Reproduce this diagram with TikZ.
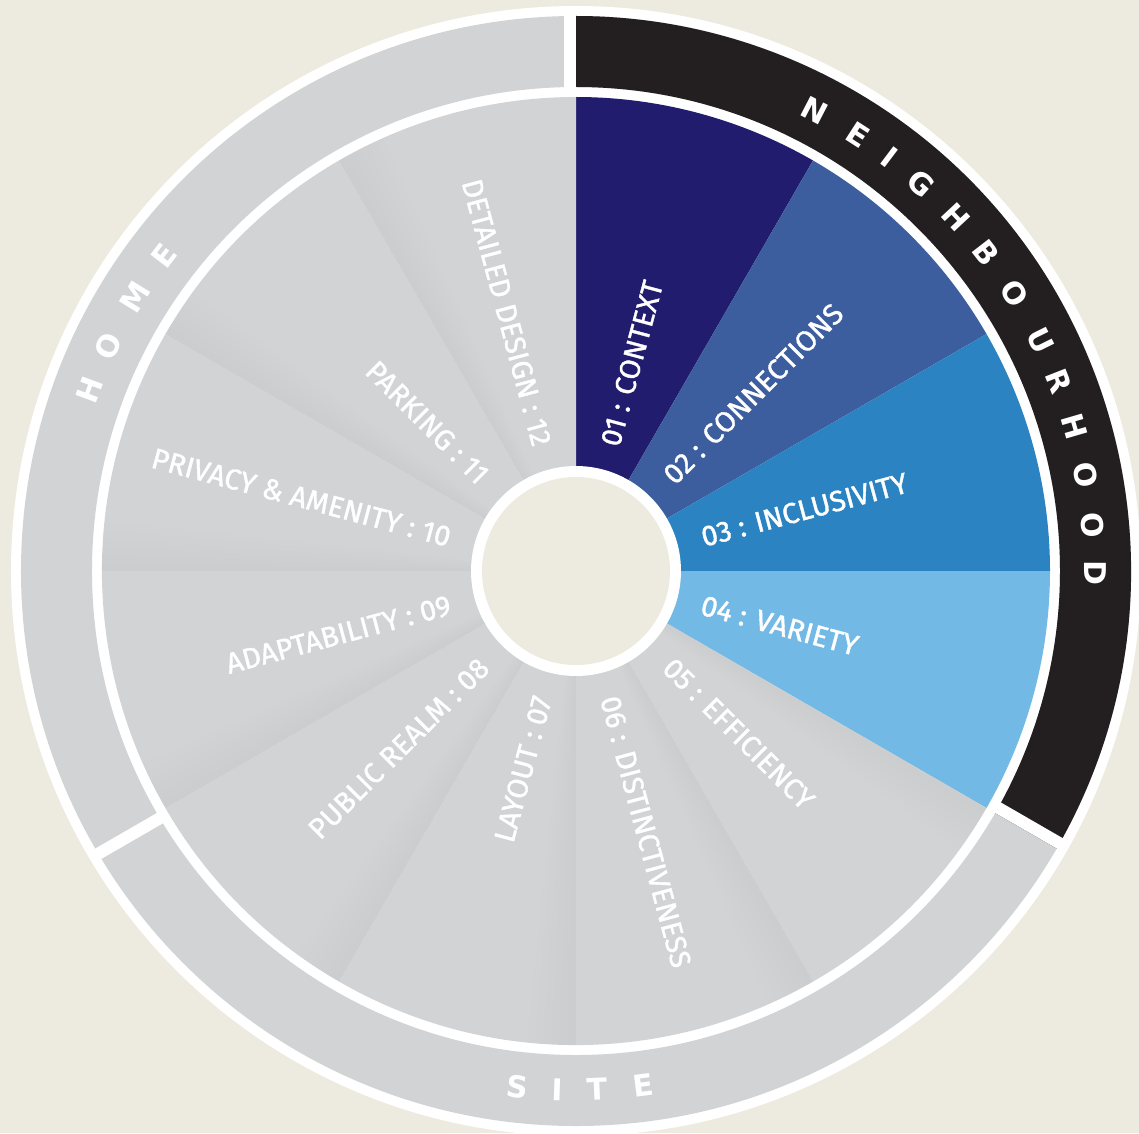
\documentclass[tikz,border=0pt]{standalone}
\usepackage{fontspec}
\setmainfont{Fira Sans}
\newfontfamily\labfont[FakeBold=1.3]{Fira Sans}
\newfontfamily\ringfont{DejaVu Sans}
\definecolor{bgc}{HTML}{EDEBDF}
\definecolor{wgray}{HTML}{D1D3D4}
\definecolor{ringblack}{HTML}{231F20}
\definecolor{cA}{HTML}{211C6E}
\definecolor{cB}{HTML}{3C5E9F}
\definecolor{cC}{HTML}{2B84C1}
\definecolor{cD}{HTML}{73B9E6}
\tikzset{
  lab/.style={text=white, inner sep=0pt, font=\labfont\fontsize{29}{31}\selectfont},
  ringlet/.style={text=white, inner sep=0pt, font=\ringfont\bfseries\fontsize{30}{32}\selectfont}
}
\begin{document}
\begin{tikzpicture}[x=1pt,y=1pt]
\useasboundingbox (-576,-562) rectangle (563,571);
\fill[bgc] (-576,-562) rectangle (563,571);
% outer white disc and ring
\fill[white] (0,0) circle (565);
\fill[wgray, even odd rule] (0,0) circle (555) (0,0) circle (484);
\fill[ringblack] (90:484) arc (90:-30:484) -- (-30:555) arc (-30:90:555) -- cycle;
\foreach \a in {90,-30,-150} {
  \fill[white, rotate=\a] (477,0) rectangle (558,12);
}
% wedges
\foreach \s/\c in {90/cA,60/cB,30/cC,0/cD} {
  \fill[\c] (0,0) -- (\s:474) arc (\s:\s-30:474) -- cycle;
}
\fill[wgray] (0,0) -- (-30:474) arc (-30:-270:474) -- cycle;
% subtle shading toward the ccw edge of each grey wedge
\foreach \b in {-30,-60,-90,-120,-150,180,150,120} {
  \foreach \k in {1,...,6} {
    \fill[black, opacity=0.0045] (0,0) -- (\b:474) arc (\b:\b-\k:474) -- cycle;
  }
}
% centre
\fill[white] (0,0) circle (105);
\fill[bgc] (0,0) circle (94);
% wedge labels
\node[lab, anchor=west, rotate=75] (l01) at (75:130) {01 : CONTEXT};
\node[lab, anchor=west, rotate=45] (l02) at (45:130) {02 : CONNECTIONS};
\node[lab, anchor=west, rotate=15] (l03) at (15:130) {03 : INCLUSIVITY};
\node[lab, anchor=west, rotate=-15] (l04) at (-15:130) {04 : VARIETY};
\node[lab, anchor=west, rotate=-45] (l05) at (-45:130) {05 : EFFICIENCY};
\node[lab, anchor=west, rotate=-75] (l06) at (-75:130) {06 : DISTINCTIVENESS};
\node[lab, anchor=east, rotate=75] (l07) at (-105:130) {LAYOUT : 07};
\node[lab, anchor=east, rotate=45] (l08) at (-135:130) {PUBLIC REALM : 08};
\node[lab, anchor=east, rotate=15] (l09) at (-165:130) {ADAPTABILITY : 09};
\node[lab, anchor=east, rotate=-15] (l10) at (165:130) {PRIVACY \& AMENITY : 10};
\node[lab, anchor=east, rotate=-45] (l11) at (135:130) {PARKING : 11};
\node[lab, anchor=east, rotate=-75] (l12) at (105:130) {DETAILED DESIGN : 12};
% ring titles
\foreach \ang/\ch [count=\i] in {62.6/N,57.1/E,52.9/I,48.3/G,43.0/H,37.8/B,32.3/O,26.4/U,21.5/R,16.2/H,10.7/O,5.1/O,-0.2/D} {
  \node[ringlet, rotate=\ang-90] (nb\i) at (\ang:519) {\ch};
}
\foreach \ang/\ch [count=\i] in {159.6/H,154.3/O,148.2/M,142.6/E} {
  \node[ringlet, rotate=\ang-90] (hm\i) at (\ang:519) {\ch};
}
\foreach \ang/\ch [count=\i] in {-96.5/S,-92.0/I,-87.6/T,-82.6/E} {
  \node[ringlet, rotate=\ang+90] (st\i) at (\ang:519) {\ch};
}
\end{tikzpicture}
\end{document}
